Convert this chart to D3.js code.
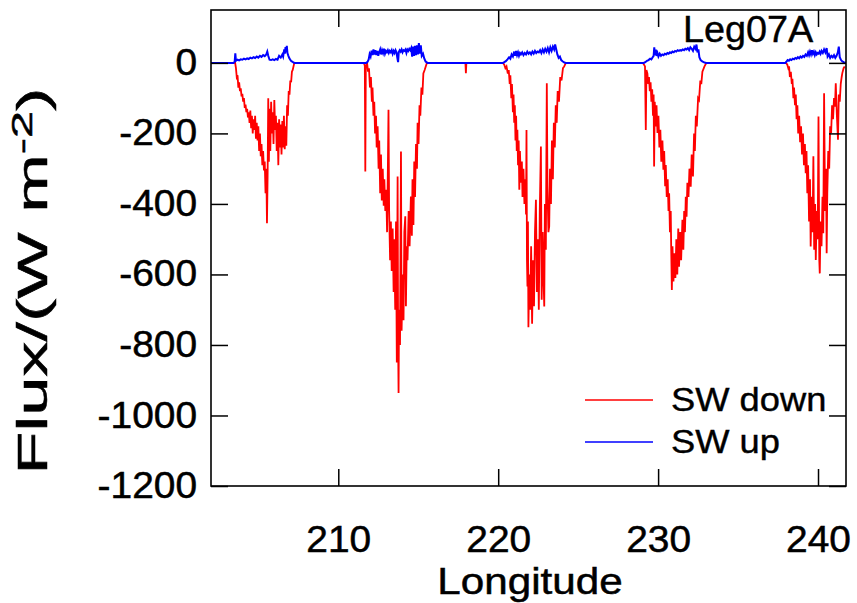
<!DOCTYPE html>
<html>
<head>
<meta charset="utf-8">
<script src="https://cdnjs.cloudflare.com/ajax/libs/d3/7.8.5/d3.min.js"></script>
<style>
  body { margin: 0; background: #fff; }
  svg { display: block; font-family: "Liberation Sans", Arial, sans-serif; }
</style>
</head>
<body>
<div id="chart"></div>
<script>
// SW down flux, [longitude, W m-2]
var downPass1 = [
  [202.04, 0], [203.55, 0], [203.60, -15], [203.65, -40], [203.70, -35], [203.75, -70], [203.80, -55],
  [203.85, -80], [203.90, -72], [203.95, -95], [204.00, -88], [204.05, -110], [204.10, -100],
  [204.15, -128], [204.20, -118], [204.25, -140], [204.30, -130], [204.35, -155], [204.40, -140],
  [204.45, -170], [204.50, -135], [204.55, -185], [204.60, -150], [204.65, -200], [204.70, -160],
  [204.75, -190], [204.80, -150], [204.85, -215], [204.90, -170], [204.95, -220], [205.00, -180],
  [205.05, -250], [205.10, -200], [205.15, -265], [205.20, -230], [205.25, -290], [205.30, -250],
  [205.35, -305], [205.40, -280], [205.45, -370], [205.50, -300], [205.54, -455], [205.58, -320],
  [205.62, -100], [205.66, -280], [205.70, -130], [205.75, -250], [205.80, -110], [205.85, -200],
  [205.90, -140], [205.95, -230], [206.00, -105], [206.05, -190], [206.10, -150], [206.15, -250],
  [206.20, -170], [206.25, -290], [206.30, -160], [206.35, -240], [206.40, -175], [206.45, -260],
  [206.50, -165], [206.55, -240], [206.60, -150], [206.65, -245], [206.70, -180], [206.75, -235],
  [206.80, -120], [206.85, -150], [206.90, -80], [206.95, -90], [207.00, -50], [207.05, -55],
  [207.10, -25], [207.15, -20], [207.25, 0]
];

var downPass2 = [
  [211.60, 0], [211.66, -8], [211.69, -308], [211.72, -12], [211.80, 0], [211.86, -25], [211.92, -15],
  [211.98, -70], [212.04, -40], [212.10, -110], [212.14, -70], [212.20, -150], [212.25, -110],
  [212.30, -200], [212.36, -150], [212.40, -240], [212.46, -180], [212.52, -300], [212.56, -220],
  [212.62, -370], [212.67, -260], [212.72, -390], [212.78, -300], [212.84, -405], [212.88, -330],
  [212.94, -420], [213.00, -360], [213.05, -480], [213.10, -300], [213.14, -133], [213.18, -420],
  [213.24, -560], [213.29, -450], [213.34, -590], [213.40, -470], [213.46, -650], [213.50, -500],
  [213.56, -700], [213.61, -450], [213.66, -850], [213.71, -322], [213.74, -780], [213.77, -936],
  [213.80, -700], [213.86, -800], [213.92, -251], [213.96, -760], [214.02, -600], [214.08, -730],
  [214.13, -480], [214.19, -435], [214.23, -690], [214.28, -520], [214.33, -560], [214.40, -420],
  [214.46, -520], [214.54, -379], [214.60, -490], [214.64, -330], [214.70, -460], [214.75, -280],
  [214.80, -380], [214.86, -230], [214.92, -300], [214.96, -170], [215.02, -230], [215.08, -120],
  [215.13, -150], [215.20, -70], [215.26, -90], [215.32, -30], [215.40, -20], [215.54, 0]
];

var downPass3 = [
  [217.95, 0], [217.98, -29], [218.01, 0],
  [220.30, 0], [220.38, -5], [220.45, -15], [220.52, -10], [220.60, -30], [220.66, -20], [220.72, -60],
  [220.76, -35], [220.82, -100], [220.86, -60], [220.92, -140], [220.96, -90], [221.00, -170],
  [221.04, -120], [221.08, -220], [221.12, -150], [221.16, -250], [221.20, -190], [221.24, -290],
  [221.28, -220], [221.32, -360], [221.36, -250], [221.42, -340], [221.48, -280], [221.52, -380],
  [221.58, -300], [221.64, -400], [221.70, -330], [221.74, -430], [221.77, -190], [221.80, -560],
  [221.83, -634], [221.86, -450], [221.89, -750], [221.94, -600], [222.00, -700], [222.06, -520],
  [222.12, -740], [222.18, -560], [222.24, -690], [222.30, -480], [222.36, -388], [222.42, -650],
  [222.48, -500], [222.54, -700], [222.60, -420], [222.67, -237], [222.72, -672], [222.78, -480],
  [222.84, -620], [222.88, -691], [222.92, -400], [222.98, -530], [223.04, -58], [223.08, -350],
  [223.14, -480], [223.19, -464], [223.24, -300], [223.30, -400], [223.36, -220], [223.42, -330],
  [223.48, -170], [223.54, -240], [223.60, -120], [223.66, -170], [223.72, -80], [223.80, -110],
  [223.88, -40], [223.96, -50], [224.05, -15], [224.13, -10], [224.23, 0]
];

var downPass4 = [
  [229.05, 0], [229.12, -5], [229.18, -10], [229.23, -190], [229.27, -20], [229.33, -30], [229.38, -60],
  [229.43, -40], [229.48, -80], [229.53, -55], [229.58, -110], [229.63, -75], [229.68, -150],
  [229.72, -90], [229.75, -294], [229.79, -110], [229.85, -180], [229.90, -120], [229.96, -199],
  [230.02, -150], [230.08, -240], [230.14, -190], [230.20, -280], [230.27, -220], [230.33, -303],
  [230.38, -250], [230.44, -350], [230.48, -290], [230.54, -380], [230.60, -330], [230.65, -420],
  [230.69, -370], [230.74, -480], [230.79, -420], [230.82, -530], [230.86, -644], [230.90, -520],
  [230.96, -620], [231.02, -540], [231.08, -610], [231.14, -500], [231.20, -600], [231.26, -470],
  [231.31, -578], [231.38, -480], [231.44, -560], [231.52, -445], [231.58, -530], [231.63, -420],
  [231.68, -480], [231.73, -380], [231.78, -436], [231.83, -340], [231.90, -380], [231.96, -300],
  [232.04, -351], [232.10, -260], [232.18, -322], [232.25, -200], [232.30, -250], [232.36, -150],
  [232.42, -180], [232.50, -100], [232.56, -105], [232.64, -50], [232.70, -60], [232.77, -25],
  [232.90, -10], [233.02, 0]
];

var downPass5 = [
  [238.00, 0], [238.08, -5], [238.14, -15], [238.19, -10], [238.24, -40], [238.30, -25], [238.36, -60],
  [238.40, -45], [238.46, -100], [238.50, -70], [238.56, -120], [238.61, -90], [238.66, -160],
  [238.71, -120], [238.76, -200], [238.82, -150], [238.88, -225], [238.94, -180], [239.00, -260],
  [239.06, -200], [239.12, -290], [239.18, -230], [239.23, -313], [239.28, -250], [239.33, -370],
  [239.38, -290], [239.44, -450], [239.50, -330], [239.54, -521], [239.60, -380], [239.66, -480],
  [239.71, -265], [239.76, -530], [239.82, -400], [239.86, -559], [239.92, -420], [239.98, -500],
  [240.03, -152], [240.08, -560], [240.11, -597], [240.16, -450], [240.22, -520], [240.28, -380],
  [240.33, -483], [240.38, -86], [240.44, -420], [240.50, -300], [240.54, -540], [240.58, -370],
  [240.64, -250], [240.70, -300], [240.76, -180], [240.82, -199], [240.88, -120], [240.94, -160],
  [241.00, -100], [241.06, -124], [241.11, -58], [241.18, -150], [241.25, -218], [241.30, -90],
  [241.36, -110], [241.42, -60], [241.48, -40], [241.52, -29], [241.60, -15], [241.67, -10]
];

// SW up flux
var upPass1 = [
  [202.04, 0], [203.45, 0], [203.52, 3], [203.56, 27], [203.60, 6], [203.70, 9], [203.80, 7], [203.90, 10],
  [204.00, 9], [204.10, 12], [204.20, 10], [204.30, 13], [204.40, 11], [204.50, 15], [204.60, 13],
  [204.70, 16], [204.80, 14], [204.90, 18], [205.00, 15], [205.10, 20], [205.20, 17], [205.30, 22],
  [205.40, 19], [205.50, 24], [205.56, 32], [205.62, 20], [205.70, 9], [205.80, 8], [205.90, 10],
  [206.00, 8], [206.10, 11], [206.20, 9], [206.30, 20], [206.40, 15], [206.50, 24], [206.55, 18],
  [206.62, 38], [206.66, 26], [206.70, 45], [206.74, 30], [206.78, 48], [206.82, 28], [206.88, 20],
  [206.94, 13], [207.04, 6], [207.14, 3], [207.25, 0]
];

var upPass2 = [
  [211.75, 0], [211.83, 3], [211.90, 10], [211.96, 25], [212.02, 18], [212.08, 35], [212.14, 22],
  [212.20, 38], [212.26, 24], [212.32, 36], [212.38, 22], [212.44, 34], [212.50, 20], [212.56, 30],
  [212.62, 38], [212.68, 24], [212.74, 36], [212.80, 28], [212.86, 40], [212.92, 26], [212.98, 34],
  [213.04, 30], [213.10, 36], [213.16, 28], [213.22, 34], [213.28, 30], [213.34, 36], [213.40, 26],
  [213.46, 34], [213.52, 28], [213.58, 36], [213.64, 30], [213.70, 12], [213.74, 2], [213.78, 30],
  [213.84, 36], [213.90, 32], [213.96, 38], [214.02, 30], [214.08, 36], [214.14, 34], [214.20, 38],
  [214.26, 28], [214.32, 38], [214.38, 34], [214.44, 40], [214.50, 36], [214.56, 42], [214.62, 18],
  [214.68, 46], [214.74, 20], [214.80, 48], [214.86, 22], [214.92, 50], [214.98, 24], [215.04, 56],
  [215.10, 26], [215.16, 50], [215.22, 20], [215.30, 26], [215.38, 12], [215.46, 4], [215.58, 0]
];

var upPass3 = [
  [220.30, 0], [220.38, 2], [220.48, 5], [220.58, 10], [220.68, 16], [220.76, 12], [220.84, 24],
  [220.92, 18], [221.00, 32], [221.06, 20], [221.12, 34], [221.18, 22], [221.24, 30], [221.30, 20],
  [221.36, 28], [221.42, 24], [221.50, 30], [221.58, 22], [221.66, 28], [221.74, 24], [221.82, 32],
  [221.90, 26], [221.98, 30], [222.06, 24], [222.14, 32], [222.22, 26], [222.30, 34], [222.38, 28],
  [222.46, 32], [222.54, 30], [222.62, 36], [222.70, 28], [222.78, 38], [222.86, 30], [222.94, 40],
  [223.02, 32], [223.10, 42], [223.18, 30], [223.26, 44], [223.34, 34], [223.42, 46], [223.50, 38],
  [223.56, 52], [223.62, 40], [223.70, 24], [223.78, 14], [223.86, 18], [223.94, 8], [224.04, 4],
  [224.14, 1], [224.23, 0]
];

var upPass4 = [
  [229.10, 0], [229.20, 2], [229.30, 6], [229.40, 8], [229.50, 12], [229.58, 10], [229.66, 16],
  [229.72, 20], [229.76, 44], [229.80, 22], [229.86, 38], [229.90, 20], [229.96, 28], [230.02, 18],
  [230.10, 26], [230.18, 20], [230.26, 24], [230.34, 22], [230.42, 26], [230.50, 24], [230.58, 28],
  [230.66, 26], [230.74, 30], [230.82, 28], [230.90, 32], [230.98, 30], [231.06, 34], [231.14, 32],
  [231.22, 36], [231.30, 34], [231.38, 36], [231.46, 35], [231.54, 38], [231.62, 36], [231.70, 40],
  [231.78, 38], [231.86, 42], [231.94, 36], [232.02, 44], [232.10, 40], [232.18, 34], [232.26, 46],
  [232.34, 40], [232.40, 52], [232.46, 30], [232.52, 38], [232.58, 16], [232.66, 8], [232.76, 4],
  [232.90, 1], [233.02, 0]
];

var upPass5 = [
  [237.95, 0], [238.02, 3], [238.10, 8], [238.18, 6], [238.26, 10], [238.34, 8], [238.42, 12],
  [238.50, 10], [238.58, 14], [238.66, 12], [238.74, 16], [238.82, 13], [238.90, 18], [238.98, 15],
  [239.06, 20], [239.14, 17], [239.22, 24], [239.30, 20], [239.38, 30], [239.44, 22], [239.50, 32],
  [239.56, 24], [239.62, 36], [239.68, 26], [239.74, 32], [239.80, 22], [239.86, 30], [239.92, 24],
  [239.98, 28], [240.04, 26], [240.10, 32], [240.16, 26], [240.22, 34], [240.30, 28], [240.38, 38],
  [240.46, 30], [240.54, 42], [240.60, 18], [240.68, 24], [240.76, 14], [240.84, 20], [240.92, 16],
  [241.00, 22], [241.08, 14], [241.16, 20], [241.24, 30], [241.30, 46], [241.36, 16], [241.44, 8],
  [241.52, 4], [241.60, 2], [241.75, 0]
];

var xTicks = [210, 220, 230, 240];
var yTicks = [0, -200, -400, -600, -800, -1000, -1200];
var seriesNames = ["SW down", "SW up"];
var seriesColors = ["#ff0000", "#0000ff"];

var downData = [].concat(downPass1, downPass2, downPass3, downPass4, downPass5);
var upData = [].concat(upPass1, upPass2, upPass3, upPass4, upPass5);

var svgWidth = 857;
var svgHeight = 603;
var margin = { top: 10, right: 11, bottom: 117, left: 211 };
var width = svgWidth - margin.left - margin.right;
var height = svgHeight - margin.top - margin.bottom;

var svg = d3.select("#chart")
  .append("svg")
  .attr("width", svgWidth)
  .attr("height", svgHeight);

var chartGroup = svg.append("g")
  .attr("transform", `translate(${margin.left}, ${margin.top})`);

var xScale = d3.scaleLinear().domain([202.04, 241.75]).range([0, width]);
var yScale = d3.scaleLinear().domain([-1200, 150]).range([height, 0]);

chartGroup.append("clipPath")
  .attr("id", "plot-clip")
  .append("rect")
  .attr("width", width)
  .attr("height", height);

var line = d3.line()
  .x(d => xScale(d[0]))
  .y(d => yScale(d[1]));

var plot = chartGroup.append("g").attr("clip-path", "url(#plot-clip)");

plot.append("path")
  .datum(downData)
  .attr("d", line)
  .attr("fill", "none")
  .attr("stroke", seriesColors[0])
  .attr("stroke-width", 1.8);

plot.append("path")
  .datum(upData)
  .attr("d", line)
  .attr("fill", "none")
  .attr("stroke", seriesColors[1])
  .attr("stroke-width", 2);

// stretch a text element sideways, the figure's lettering is a bit wider than Liberation Sans
function widen(sel, k) {
  sel.each(function() {
    var w = this.getComputedTextLength();
    d3.select(this)
      .attr("textLength", w * k)
      .attr("lengthAdjust", "spacingAndGlyphs");
  });
}

// axes: ticks pointing inward on all four sides
var tickLen = 17;

var xBottom = chartGroup.append("g")
  .attr("transform", `translate(0, ${height})`)
  .call(d3.axisBottom(xScale).tickValues(xTicks).tickSizeInner(-tickLen).tickSizeOuter(0)
    .tickPadding(40).tickFormat(d => String(d)));
var xTop = chartGroup.append("g")
  .call(d3.axisTop(xScale).tickValues(xTicks).tickSizeInner(-tickLen).tickSizeOuter(0).tickFormat(""));
var yLeft = chartGroup.append("g")
  .call(d3.axisLeft(yScale).tickValues(yTicks).tickSizeInner(-tickLen).tickSizeOuter(0)
    .tickPadding(14).tickFormat(d => String(d)));
var yRight = chartGroup.append("g")
  .attr("transform", `translate(${width}, 0)`)
  .call(d3.axisRight(yScale).tickValues(yTicks).tickSizeInner(-tickLen).tickSizeOuter(0).tickFormat(""));

[xBottom, xTop, yLeft, yRight].forEach(function(ax) {
  ax.select(".domain").remove();
  ax.selectAll(".tick line").attr("stroke", "#000").attr("stroke-width", 1.5);
  ax.selectAll("text")
    .attr("font-family", "'Liberation Sans', Arial, sans-serif")
    .attr("font-size", "36px")
    .attr("fill", "#000")
    .attr("stroke", "#000")
    .attr("stroke-width", 0.5);
});
widen(xBottom.selectAll("text"), 1.08);
widen(yLeft.selectAll("text"), 1.08);

chartGroup.append("rect")
  .attr("width", width)
  .attr("height", height)
  .attr("fill", "none")
  .attr("stroke", "#000")
  .attr("stroke-width", 1.6);

// legend
var legend = chartGroup.append("g");
seriesNames.forEach(function(name, i) {
  var ly = 390 + i * 42;
  legend.append("line")
    .attr("x1", 374).attr("x2", 442)
    .attr("y1", ly).attr("y2", ly)
    .attr("stroke", seriesColors[i])
    .attr("stroke-width", 1.5);
  legend.append("text")
    .attr("x", 460)
    .attr("y", ly + 11)
    .attr("font-size", "33px")
    .attr("fill", "#000")
    .attr("stroke", "#000")
    .attr("stroke-width", 0.4)
    .text(name)
    .call(widen, 1.1);
});

chartGroup.append("text")
  .attr("x", 472)
  .attr("y", 32)
  .attr("font-size", "36px")
  .attr("fill", "#000")
  .attr("stroke", "#000")
  .attr("stroke-width", 0.4)
  .text("Leg07A")
  .call(widen, 1.05);

// axis titles
svg.append("text")
  .attr("x", 530)
  .attr("y", 594)
  .attr("text-anchor", "middle")
  .attr("font-size", "37px")
  .attr("fill", "#000")
  .attr("stroke", "#000")
  .attr("stroke-width", 0.5)
  .text("Longitude")
  .call(widen, 1.14);

var yTitle = svg.append("text")
  .attr("text-anchor", "middle")
  .attr("font-size", "42px")
  .attr("fill", "#000")
  .attr("stroke", "#000")
  .attr("stroke-width", 0.5);
yTitle.append("tspan").text("Flux/(W m");
yTitle.append("tspan").attr("dy", -15).attr("font-size", "29px").text("-2");
yTitle.append("tspan").attr("dy", 15).text(")");

// the rotated title runs from about y=475 up to y=88 in the figure
var titleLen = yTitle.node().getBBox().width;
yTitle.attr("transform", `translate(47, 281) rotate(-90) scale(${387 / titleLen}, 1)`);
</script>
</body>
</html>
